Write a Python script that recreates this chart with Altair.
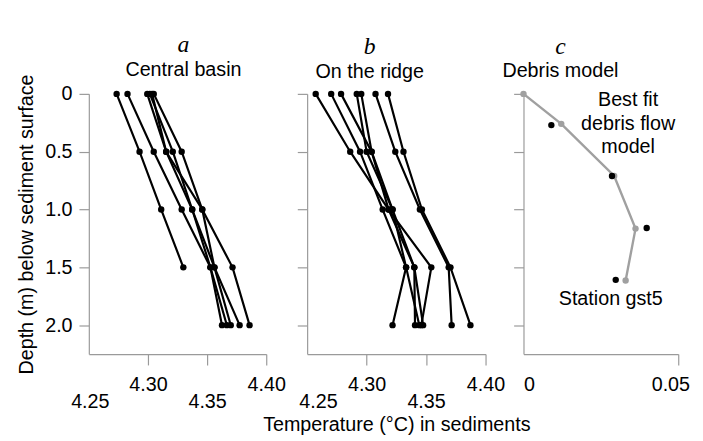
import altair as alt
import pandas as pd

# ---------------- data ----------------
DEPTHS = [0.0, 0.5, 1.0, 1.5, 2.0]

# Central basin profiles (temperature, degC, at each depth; None = no value)
BASIN = [
    [4.2735, 4.2929, 4.3112, 4.3299, None],
    [4.2827, 4.3049, 4.3285, 4.3528, 4.3626],
    [4.2994, 4.3154, 4.3374, 4.3528, 4.3667],
    [4.3016, 4.3210, 4.3374, 4.3562, 4.3700],
    [4.3035, 4.3154, 4.3459, 4.3562, 4.3775],
    [4.3049, 4.3285, 4.3459, 4.3715, 4.3859],
]

# On the ridge profiles
RIDGE = [
    [4.2572, 4.2862, 4.3185, 4.3544, 4.3460],
    [4.2702, 4.2945, 4.3135, 4.3332, 4.3218],
    [4.2785, 4.3042, 4.3185, 4.3401, 4.3407],
    [4.2917, 4.3000, 4.3218, 4.3332, 4.3443],
    [4.2955, 4.3042, 4.3218, 4.3401, 4.3475],
    [4.3075, 4.3241, 4.3448, 4.3690, 4.3715],
    [4.3180, 4.3310, 4.3465, 4.3705, 4.3873],
]

# Debris model (temperature anomaly vs depth)
MODEL_T = [0.0, 0.0122, 0.0293, 0.0362, 0.0330]
MODEL_D = [0.0, 0.259, 0.710, 1.165, 1.614]
OBS_T = [0.0090, 0.0286, 0.0398, 0.0298]
OBS_D = [0.270, 0.710, 1.160, 1.608]

TEMP_TICKS = [4.25, 4.30, 4.35, 4.40]
ANOM_TICKS = [0.0, 0.05]
DEPTH_TICKS = [0.0, 0.5, 1.0, 1.5, 2.0]

LETTERS = ["a", "b", "c"]
PANEL_TITLES = ["Central basin", "On the ridge", "Debris model"]
X_TITLE = "Temperature (°C) in sediments"
Y_TITLE = "Depth (m) below sediment surface"
NOTE_MODEL = ["Best fit", "debris flow", "model"]
NOTE_STATION = "Station gst5"


def profiles_frame(profiles):
    rows = []
    for i, prof in enumerate(profiles):
        for d, t in zip(DEPTHS, prof):
            if t is not None:
                rows.append({"profile": i, "depth": d, "temp": t})
    return pd.DataFrame(rows)


# ---------------- style ----------------
SANS = "Liberation Sans"
SERIF = "Liberation Serif"
GRAY = "#9a9a9a"
FS = 20
H = 264

y_scale = alt.Scale(domain=[0, 2.25], reverse=True, nice=False, zero=False)


def near(vals):
    return " || ".join(f"abs(datum.value - {v}) < 1e-6" for v in vals)


def y_axis(show):
    kw = dict(values=DEPTH_TICKS, grid=False, domainColor=GRAY, tickColor=GRAY,
              tickSize=10, domainWidth=1.2, tickWidth=1.2)
    if show:
        return alt.Axis(title=Y_TITLE, labelExpr="datum.value == 0 ? '0' : format(datum.value, '.1f')",
                        labelFont=SANS, labelFontSize=FS, labelColor="black", labelPadding=7,
                        labelFlush=False, labelOverlap=False,
                        titleFont=SANS, titleFontSize=FS, titleFontWeight="normal",
                        titleColor="black", titlePadding=8, **kw)
    return alt.Axis(title=None, labels=False, **kw)


def temp_axis(title, first_offset):
    return alt.Axis(
        values=TEMP_TICKS, format=".2f", grid=False,
        domainColor=GRAY, tickColor=GRAY, tickSize=11, domainWidth=1.2, tickWidth=1.2,
        tickOpacity={"condition": {"test": near([4.25]), "value": 0}, "value": 1},
        labelFont=SANS, labelFontSize=FS, labelColor="black",
        labelFlush=False, labelOverlap=False, labelBound=False,
        labelPadding={"condition": {"test": near([4.25, 4.35]), "value": 27}, "value": 10},
        labelOffset={"condition": {"test": near([4.25]), "value": first_offset}, "value": 0},
        title=title if title else None,
        titleFont=SANS, titleFontSize=FS, titleFontWeight="normal", titleColor="black",
        titlePadding=4,
    )


def panel_title(i, dx, dy):
    return alt.TitleParams(
        text=LETTERS[i], subtitle=PANEL_TITLES[i],
        font=SERIF, fontStyle="italic", fontWeight="normal", fontSize=24, color="black",
        subtitleFont=SANS, subtitleFontSize=FS, subtitleColor="black",
        subtitlePadding=3, offset=8, anchor="middle", dx=dx, dy=dy,
    )


def profile_panel(profiles, i, width, xaxis, yaxis, dx, dy):
    df = profiles_frame(profiles)
    xs = alt.Scale(domain=[4.25, 4.40], nice=False, zero=False)
    base = alt.Chart(df)
    lines = base.mark_line(color="black", strokeWidth=2.2).encode(
        x=alt.X("temp:Q", scale=xs, axis=xaxis),
        y=alt.Y("depth:Q", scale=y_scale, axis=yaxis),
        detail="profile:N",
        order="depth:Q",
    )
    pts = base.mark_circle(color="black", size=42, opacity=1).encode(
        x=alt.X("temp:Q", scale=xs), y=alt.Y("depth:Q", scale=y_scale)
    )
    return alt.layer(lines, pts).properties(width=width, height=H, title=panel_title(i, dx, dy))


panel_a = profile_panel(BASIN, 0, 180, temp_axis(None, 1), y_axis(True), 6, 14)
panel_b = profile_panel(RIDGE, 1, 181, temp_axis(X_TITLE, 11), y_axis(False), -27, 0)

# debris model panel
model_df = pd.DataFrame({"t": MODEL_T, "d": MODEL_D})
obs_df = pd.DataFrame({"t": OBS_T, "d": OBS_D})
cx = alt.Scale(domain=[0, 0.05], nice=False, zero=False)
c_axis = alt.Axis(
    values=ANOM_TICKS, grid=False,
    labelExpr="datum.value == 0 ? '0' : format(datum.value, '.2f')",
    domainColor=GRAY, tickColor=GRAY, tickSize=11, domainWidth=1.2, tickWidth=1.2,
    tickOpacity={"condition": {"test": "datum.value == 0", "value": 0}, "value": 1},
    labelFont=SANS, labelFontSize=FS, labelColor="black", labelPadding=10,
    labelFlush=False, labelOverlap=False, labelBound=False,
    labelOffset={"condition": {"test": "datum.value == 0", "value": 5.5}, "value": -8},
    title=None,
)
model_line = alt.Chart(model_df).mark_line(color="#a0a0a0", strokeWidth=2.4).encode(
    x=alt.X("t:Q", scale=cx, axis=c_axis),
    y=alt.Y("d:Q", scale=y_scale, axis=y_axis(False)),
    order="d:Q",
)
model_pts = alt.Chart(model_df).mark_circle(color="#a0a0a0", size=42, opacity=1).encode(
    x=alt.X("t:Q", scale=cx), y=alt.Y("d:Q", scale=y_scale)
)
obs_pts = alt.Chart(obs_df).mark_circle(color="black", size=42, opacity=1).encode(
    x=alt.X("t:Q", scale=cx), y=alt.Y("d:Q", scale=y_scale)
)
note1 = alt.Chart().mark_text(font=SANS, fontSize=FS, color="black", align="center",
                              baseline="middle", lineHeight=23.5).encode(
    x=alt.datum(0.0338, scale=cx), y=alt.datum(0.057, scale=y_scale), text=alt.value(NOTE_MODEL)
)
note2 = alt.Chart().mark_text(font=SANS, fontSize=FS, color="black", align="center",
                              baseline="middle").encode(
    x=alt.datum(0.0282, scale=cx), y=alt.datum(1.771, scale=y_scale), text=alt.value(NOTE_STATION)
)
panel_c = alt.layer(model_line, model_pts, obs_pts, note1, note2).properties(
    width=157, height=H, title=panel_title(2, -41, 0)
)

right = alt.hconcat(panel_b, panel_c, spacing=38.5, bounds="flush")
chart = (
    alt.hconcat(panel_a, right, spacing=41.5, bounds="flush")
    .properties(padding={"left": 9, "top": 22, "right": 5, "bottom": 0})
    .configure_view(stroke=None)
)

chart.save("out.html", embed_options={"renderer": "svg", "actions": False})
